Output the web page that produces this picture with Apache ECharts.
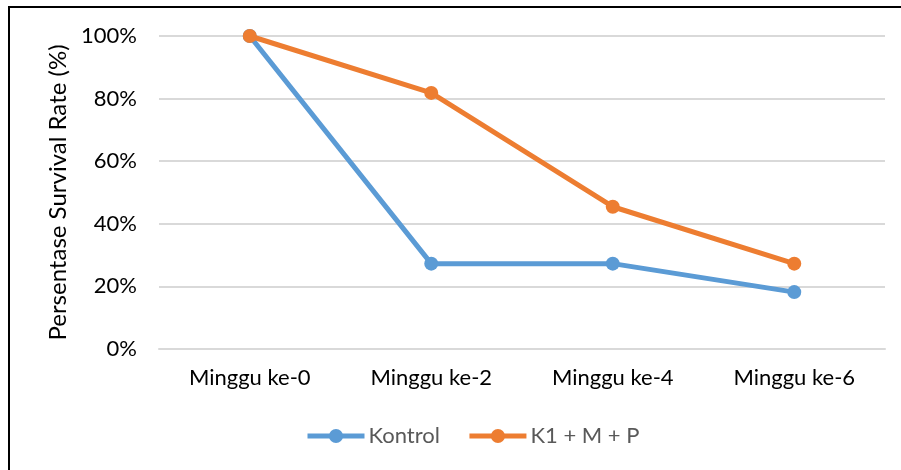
<!DOCTYPE html>
<html>
<head>
<meta charset="utf-8">
<script src="https://cdn.jsdelivr.net/npm/echarts@6/dist/echarts.min.js"></script>
<style>
  html, body { margin: 0; padding: 0; background: #fff; }
  #chart { width: 901px; height: 470px; }
</style>
</head>
<body>
<div id="chart"></div>
<script>
const categories = ['Minggu ke-0', 'Minggu ke-2', 'Minggu ke-4', 'Minggu ke-6'];
const kontrol = [100, 27.27, 27.27, 18.18];
const k1mp = [100, 81.82, 45.45, 27.27];
const seriesNames = ['Kontrol', 'K1 + M + P'];
const yTicks = [0, 20, 40, 60, 80, 100];
const yTitle = 'Persentase Survival Rate (%)';

const FONT = 'Lato';
const chart = echarts.init(document.getElementById('chart'), null, { renderer: 'canvas' });
chart.setOption({
  animation: false,
  backgroundColor: '#ffffff',
  graphic: [
    { type: 'rect', shape: { x: 8, y: 6, width: 893, height: 2 }, style: { fill: '#000' }, silent: true },
    { type: 'rect', shape: { x: 8, y: 6, width: 2, height: 464 }, style: { fill: '#000' }, silent: true }
  ],
  grid: { left: 159, right: 16, top: 36, bottom: 121, containLabel: false },
  legend: {
    data: seriesNames,
    left: 300,
    top: 420,
    itemWidth: 57,
    itemHeight: 17.5,
    itemGap: 27,
    lineStyle: { width: 5 },
    textStyle: { fontFamily: FONT, fontSize: 22, color: '#595959', padding: [0, 0, 0, -1] }
  },
  xAxis: {
    type: 'category',
    data: categories,
    boundaryGap: true,
    axisLine: { show: true, lineStyle: { color: '#d9d9d9', width: 2 } },
    axisTick: { show: false },
    axisLabel: { fontFamily: FONT, fontSize: 22, color: '#000', margin: 18 },
    splitLine: { show: false }
  },
  yAxis: {
    type: 'value',
    min: yTicks[0],
    max: yTicks[yTicks.length - 1],
    interval: 20,
    name: yTitle,
    nameLocation: 'middle',
    nameGap: 84,
    nameRotate: 90,
    nameTextStyle: { fontFamily: FONT, fontSize: 24, color: '#000' },
    axisLine: { show: false },
    axisTick: { show: false },
    axisLabel: { fontFamily: FONT, fontSize: 22, color: '#000', margin: 22, formatter: v => v + '%' },
    splitLine: { show: true, lineStyle: { color: '#d9d9d9', width: 2 } }
  },
  series: [
    {
      name: seriesNames[0],
      type: 'line',
      data: kontrol,
      symbol: 'circle',
      symbolSize: 14,
      lineStyle: { color: '#5b9bd5', width: 5 },
      itemStyle: { color: '#5b9bd5' },
      z: 2
    },
    {
      name: seriesNames[1],
      type: 'line',
      data: k1mp,
      symbol: 'circle',
      symbolSize: 14,
      lineStyle: { color: '#ed7d31', width: 5 },
      itemStyle: { color: '#ed7d31' },
      z: 3
    }
  ]
});
</script>
</body>
</html>
